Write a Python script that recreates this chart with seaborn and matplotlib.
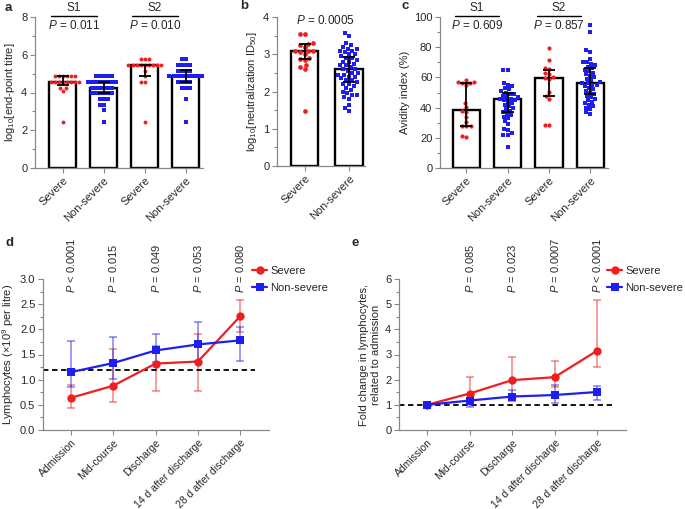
import warnings
import numpy as np
import pandas as pd
import seaborn as sns
import matplotlib.pyplot as plt
from matplotlib.lines import Line2D
from matplotlib.ticker import MultipleLocator

warnings.filterwarnings('ignore')

# ---------------- dados ----------------
# a: log10 titulo
a_cats = ['S1 Severe', 'S1 Non-severe', 'S2 Severe', 'S2 Non-severe']
a_rotulos = ['Severe', 'Non-severe', 'Severe', 'Non-severe']
a_s1_sev = [4.85, 4.85, 4.85, 4.85, 4.85, 4.85, 4.55, 4.55, 4.55, 4.55, 4.55,
            4.55, 4.55, 4.55, 4.25, 4.25, 4.1, 2.45]
a_s1_non = [4.85, 4.85, 4.85, 4.85, 4.85, 4.55, 4.55, 4.55, 4.55, 4.55, 4.55,
            4.55, 4.55, 4.25, 4.25, 4.25, 4.25, 4.25, 4.25, 3.95, 3.95, 3.95,
            3.95, 3.95, 3.95, 3.65, 3.65, 3.65, 3.35, 3.35, 3.05, 2.45]
a_s2_sev = [5.75, 5.75, 5.75, 5.45, 5.45, 5.45, 5.45, 5.45, 5.45, 5.45, 5.45,
            5.45, 5.15, 4.85, 4.55, 4.55, 2.45]
a_s2_non = [5.75, 5.75, 5.45, 5.45, 5.45, 5.45, 5.15, 5.15, 5.15, 5.15, 4.85,
            4.85, 4.85, 4.85, 4.85, 4.85, 4.85, 4.85, 4.85, 4.55, 4.55, 4.55,
            4.55, 4.25, 4.25, 4.25, 3.65, 2.45]
a_mediana = [4.55, 4.25, 5.45, 4.85]
a_q1 = [4.40, 3.95, 4.85, 4.57]
a_q3 = [4.87, 4.55, 5.45, 5.17]

# b: log10 ID50
b_cats = ['Severe', 'Non-severe']
b_sev = [3.55, 3.55, 3.30, 3.28, 3.25, 3.20, 3.10, 3.08, 3.08, 3.05, 3.00,
         2.90, 2.87, 2.85, 2.72, 2.65, 2.60, 1.48]
b_non = [3.58, 3.50, 3.30, 3.25, 3.20, 3.15, 3.15, 3.10, 3.10, 3.05, 3.00,
         3.00, 2.95, 2.90, 2.90, 2.85, 2.80, 2.80, 2.75, 2.70, 2.70, 2.65,
         2.60, 2.60, 2.55, 2.50, 2.50, 2.45, 2.45, 2.40, 2.40, 2.35, 2.30,
         2.30, 2.25, 2.20, 2.20, 2.15, 2.10, 2.05, 2.00, 1.95, 1.90, 1.90,
         1.85, 1.80, 1.65, 1.55, 1.48]
b_mediana = [3.09, 2.61]
b_q1 = [2.86, 2.25]
b_q3 = [3.28, 2.93]

# c: indice de avidez
c_s1_sev = [58.5, 57.0, 57.0, 56.5, 56.0, 55.0, 43.0, 40.5, 38.0, 37.0, 34.0,
            30.5, 28.0, 27.5, 27.5, 21.0, 20.5]
c_s1_non = [65.0, 65.0, 56.0, 55.0, 54.0, 53.0, 52.0, 51.0, 50.0, 49.0, 49.0,
            48.0, 47.0, 47.0, 46.0, 46.0, 45.0, 45.0, 44.0, 43.0, 42.0, 41.0,
            40.0, 39.0, 38.0, 37.0, 36.0, 35.0, 34.0, 33.0, 31.0, 29.0, 26.0,
            25.0, 23.0, 22.0, 22.0, 14.0]
c_s2_sev = [79.5, 71.5, 66.0, 65.5, 63.0, 62.5, 60.0, 59.5, 59.0, 50.5, 47.5,
            45.5, 28.5, 28.5]
c_s2_non = [95.0, 90.0, 78.0, 77.0, 72.0, 70.0, 70.0, 69.0, 68.0, 67.0, 66.0,
            65.0, 64.0, 63.0, 62.0, 61.0, 60.0, 59.0, 58.0, 57.0, 56.0, 56.0,
            55.0, 55.0, 54.0, 53.0, 52.0, 51.0, 50.0, 49.0, 48.0, 47.0, 46.0,
            45.0, 44.0, 43.0, 42.0, 41.0, 40.0, 39.0, 37.0, 36.0]
c_mediana = [38.4, 45.5, 59.4, 56.1]
c_q1 = [27.8, 36.8, 47.7, 48.8]
c_q3 = [56.5, 49.4, 65.0, 66.1]

# d: linfocitos
tempos = ['Admission', 'Mid-course', 'Discharge', '14 d after discharge',
          '28 d after discharge']
d_sev = [0.64, 0.88, 1.32, 1.36, 2.26]
d_sev_lo = [0.43, 0.56, 0.78, 0.78, 1.95]
d_sev_hi = [0.90, 1.61, 1.66, 1.91, 2.59]
d_non = [1.15, 1.33, 1.58, 1.70, 1.78]
d_non_lo = [0.85, 1.02, 1.35, 1.38, 1.37]
d_non_hi = [1.76, 1.85, 1.90, 2.14, 2.05]
d_p = ['< 0.0001', '= 0.015', '= 0.049', '= 0.053', '= 0.080']

# e: fold change
e_sev = [1.0, 1.45, 1.98, 2.10, 3.15]
e_sev_lo = [1.0, 1.10, 1.25, 1.70, 2.50]
e_sev_hi = [1.0, 2.10, 2.92, 2.74, 5.15]
e_non = [1.0, 1.17, 1.33, 1.39, 1.51]
e_non_lo = [1.0, 0.93, 1.15, 1.09, 1.20]
e_non_hi = [1.0, 1.42, 1.59, 1.79, 1.73]
e_p = ['= 0.085', '= 0.023', '= 0.0007', '< 0.0001']

# ---------------- estilo ----------------
sns.set_style('ticks')
plt.rcParams['font.family'] = ['Liberation Sans', 'DejaVu Sans']
plt.rcParams['mathtext.fontset'] = 'custom'
plt.rcParams['mathtext.rm'] = 'Liberation Sans'
plt.rcParams['mathtext.it'] = 'Liberation Sans:italic'
plt.rcParams['mathtext.default'] = 'regular'

vermelho = '#f01e1e'
azul = '#1e1ef0'
cinza = '#888888'

fig = plt.figure(figsize=(6.85, 5.09), dpi=100)


def eixo(l, r, t, b):
    return fig.add_axes([l / 685, 1 - b / 509, (r - l) / 685, (b - t) / 509])


def estilo(ax, major, minor, xsize=8):
    sns.despine(ax=ax)
    for s in ['left', 'bottom']:
        ax.spines[s].set_color(cinza)
        ax.spines[s].set_linewidth(0.9)
    ax.yaxis.set_major_locator(MultipleLocator(major))
    ax.yaxis.set_minor_locator(MultipleLocator(minor))
    ax.tick_params(axis='both', which='major', length=3.5, width=0.8,
                   color=cinza, labelsize=8, pad=2)
    ax.tick_params(axis='x', labelsize=xsize)
    ax.tick_params(axis='y', which='minor', length=2, width=0.8, color=cinza)
    ax.set_xlabel('')


def painel_barras(ax, nomes, rotulos, grupos, valores, mediana, q1, q3,
                  largura, tam):
    df = pd.DataFrame({
        'cat': np.repeat(nomes, [len(v) for v in valores]),
        'grupo': np.repeat(grupos, [len(v) for v in valores]),
        'valor': np.concatenate(valores),
    })
    sns.barplot(x=nomes, y=mediana, order=nomes, color='white',
                edgecolor='black', linewidth=1.7, width=largura,
                errorbar=None, ax=ax, zorder=1)
    for g, cor, marc in [('Severe', vermelho, 'o'), ('Non-severe', azul, 's')]:
        sns.swarmplot(data=df[df.grupo == g], x='cat', y='valor', order=nomes,
                      color=cor, marker=marc, size=tam, linewidth=0, ax=ax,
                      zorder=2)
    pos = np.arange(len(nomes))
    med = np.array(mediana)
    ax.errorbar(pos, med, yerr=[med - np.array(q1), np.array(q3) - med],
                fmt='none', ecolor='black', elinewidth=1.3, capsize=4,
                capthick=1.3, zorder=3)
    ax.set_xticks(pos)
    ax.set_xticklabels(rotulos, rotation=45, ha='right', rotation_mode='anchor')


def anota_s(ax, textos):
    trans = ax.get_xaxis_transform()
    for (x0, x1, s, p) in textos:
        ax.plot([x0, x1], [1.005, 1.005], transform=trans, color='black',
                lw=1, clip_on=False)
        ax.text((x0 + x1) / 2, 1.058, s, transform=trans, ha='center',
                va='center', fontsize=8.5)
        ax.text((x0 + x1) / 2, 0.945, '$\\mathit{P}$ = ' + p, transform=trans,
                ha='center', va='center', fontsize=8.5)


# ---------------- a ----------------
ax_a = eixo(35, 203, 17, 168)
painel_barras(ax_a, a_cats, a_rotulos,
              ['Severe', 'Non-severe', 'Severe', 'Non-severe'],
              [a_s1_sev, a_s1_non, a_s2_sev, a_s2_non],
              a_mediana, a_q1, a_q3, 0.66, 2.8)
ax_a.set_ylim(0, 8)
ax_a.set_xlim(-0.68, 3.42)
estilo(ax_a, 2, 1)
ax_a.set_ylabel('log$_{10}$[end-point titre]', fontsize=8, labelpad=3)
anota_s(ax_a, [(-0.28, 0.83, 'S1', '0.011'), (1.68, 2.8, 'S2', '0.010')])

# ---------------- b ----------------
ax_b = eixo(277, 365, 17, 166)
painel_barras(ax_b, b_cats, b_cats, ['Severe', 'Non-severe'],
              [b_sev, b_non], b_mediana, b_q1, b_q3, 0.61, 3.4)
ax_b.set_ylim(0, 4)
ax_b.set_xlim(-0.62, 1.36)
estilo(ax_b, 1, 0.5)
ax_b.set_ylabel('log$_{10}$[neutralization ID$_{50}$]', fontsize=8, labelpad=3)
ax_b.text(0.46, 0.975, '$\\mathit{P}$ = 0.0005', transform=ax_b.get_xaxis_transform(),
          ha='center', va='center', fontsize=8.5)

# ---------------- c ----------------
ax_c = eixo(440, 608, 17, 168)
painel_barras(ax_c, a_cats, a_rotulos,
              ['Severe', 'Non-severe', 'Severe', 'Non-severe'],
              [c_s1_sev, c_s1_non, c_s2_sev, c_s2_non],
              c_mediana, c_q1, c_q3, 0.66, 3.0)
ax_c.set_ylim(0, 100)
ax_c.set_xlim(-0.64, 3.43)
estilo(ax_c, 20, 10)
ax_c.set_ylabel('Avidity index (%)', fontsize=8, labelpad=3)
anota_s(ax_c, [(-0.28, 0.8, 'S1', '0.609'), (1.71, 2.78, 'S2', '0.857')])


# ---------------- d / e ----------------
def painel_linhas(ax, sev, sev_lo, sev_hi, non, non_lo, non_hi, ref):
    df = pd.DataFrame({
        'tempo': tempos + tempos,
        'valor': sev + non,
        'grupo': ['Severe'] * len(tempos) + ['Non-severe'] * len(tempos),
    })
    pos = np.arange(len(tempos))
    for v, lo, hi, cor in [(sev, sev_lo, sev_hi, vermelho),
                           (non, non_lo, non_hi, azul)]:
        v = np.array(v)
        ax.errorbar(pos, v, yerr=[v - np.array(lo), np.array(hi) - v],
                    fmt='none', ecolor=cor, alpha=0.55, elinewidth=1.1,
                    capsize=3, capthick=1.1, zorder=1)
    sns.lineplot(data=df, x='tempo', y='valor', hue='grupo', style='grupo',
                 palette={'Severe': vermelho, 'Non-severe': azul},
                 markers={'Severe': 'o', 'Non-severe': 's'}, dashes=False,
                 markersize=6, markeredgewidth=0, linewidth=1.6, sort=False,
                 legend=False, ax=ax, zorder=3)
    ax.axhline(ref, xmin=0, xmax=0.94, color='black', ls=(0, (3, 2)), lw=1.3,
               zorder=2)
    ax.set_xlim(-0.66, 4.68)
    ax.set_xticks(pos)
    ax.set_xticklabels(tempos, rotation=45, ha='right', rotation_mode='anchor')
    ax.set_ylabel('')


def legenda(ax, x, y):
    h = [Line2D([], [], color=vermelho, marker='o', markersize=6, lw=1.6,
                markeredgewidth=0),
         Line2D([], [], color=azul, marker='s', markersize=6, lw=1.6,
                markeredgewidth=0)]
    ax.legend(h, ['Severe', 'Non-severe'], loc='upper left',
              bbox_to_anchor=(x / 685, 1 - y / 509),
              bbox_transform=fig.transFigure, frameon=False, fontsize=8,
              handlelength=1.35, handletextpad=0.3, labelspacing=0.6,
              borderaxespad=0, borderpad=0)


ax_d = eixo(43, 269, 279, 430)
painel_linhas(ax_d, d_sev, d_sev_lo, d_sev_hi, d_non, d_non_lo, d_non_hi, 1.2)
ax_d.set_ylim(0, 3)
estilo(ax_d, 0.5, 0.25, xsize=7.5)
ax_d.yaxis.set_major_formatter(plt.FormatStrFormatter('%.1f'))
ax_d.set_ylabel('Lymphocytes (×10$^9$ per litre)', fontsize=8, labelpad=3)
for i, p in enumerate(d_p):
    ax_d.text(i, 0.905, '$\\mathit{P}$ ' + p, transform=ax_d.get_xaxis_transform(),
              rotation=90, ha='center', va='bottom', fontsize=8)
legenda(ax_d, 252, 266)

ax_e = eixo(399, 626, 279, 430)
painel_linhas(ax_e, e_sev, e_sev_lo, e_sev_hi, e_non, e_non_lo, e_non_hi, 1.0)
ax_e.set_ylim(0, 6)
estilo(ax_e, 1, 0.5, xsize=7.5)
ax_e.set_ylabel('Fold change in lymphocytes,\nrelated to admission',
                fontsize=8, labelpad=3)
for i, p in enumerate(e_p):
    ax_e.text(i + 1, 0.905, '$\\mathit{P}$ ' + p,
              transform=ax_e.get_xaxis_transform(),
              rotation=90, ha='center', va='bottom', fontsize=8)
legenda(ax_e, 607, 266)

# rotulos dos paineis
for x, y, s in [(5, 8, 'a'), (240, 6, 'b'), (402, 6, 'c'), (5, 243, 'd'),
                (352, 243, 'e')]:
    fig.text(x / 685, 1 - y / 509, s, fontweight='bold', fontsize=9.5,
             va='center', ha='left')

fig.savefig('out.png', dpi=100)
